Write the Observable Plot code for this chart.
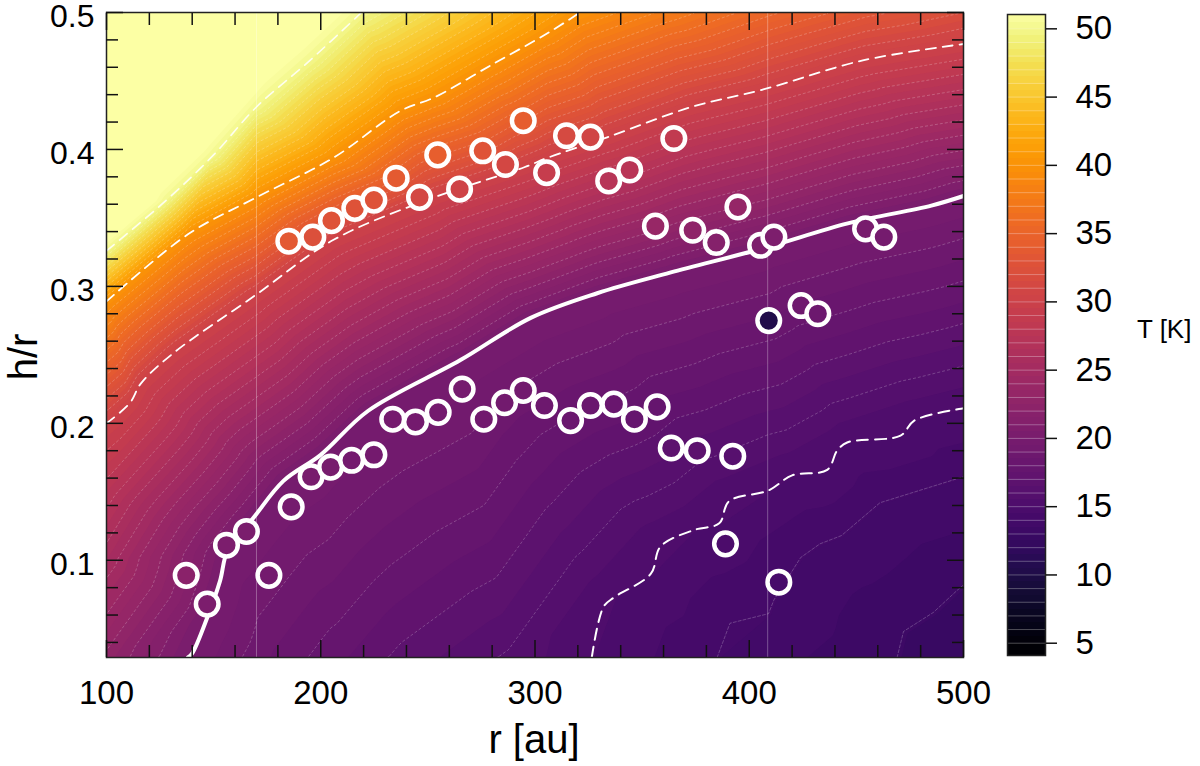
<!DOCTYPE html>
<html><head><meta charset="utf-8">
<script src="https://cdn.jsdelivr.net/npm/d3@7"></script>
<script src="https://cdn.jsdelivr.net/npm/@observablehq/plot@0.6"></script>
<style>
body{margin:0;background:#fff;font-family:"Liberation Sans",Arial,sans-serif;}
#wrap{position:relative;width:1200px;height:766px;overflow:hidden;}
#wrap svg{position:absolute;top:0;}
.t{position:absolute;color:#000;white-space:nowrap;line-height:1;font-family:"Liberation Sans",Arial,sans-serif;}
</style></head><body><div id="wrap"></div>
<script>
// ---- isotherms: [r (au), h/r] ----
const iso50 = [[100,0.326],[128,0.363],[150,0.396],[170,0.431],[195,0.465],[219,0.5]];
const iso40 = [[100,0.289],[138,0.338],[170,0.365],[206,0.394],[237,0.428],[253,0.438],[280,0.462],[306,0.485],[321,0.5]];
const iso30 = [[100,0.2],[111,0.215],[116,0.229],[131,0.251],[169,0.293],[206,0.334],[253,0.365],[295,0.387],[306,0.394],[334,0.409],[373,0.431],[407,0.444],[453,0.465],[500,0.477]];
const iso20 = [[138,0.029],[140,0.032],[147,0.058],[153,0.085],[156.5,0.107],[168.6,0.131],[182.6,0.158],[200,0.177],[222,0.209],[265,0.246],[298,0.277],[329,0.295],[363,0.31],[407,0.328],[446,0.346],[485,0.359],[500,0.366]];
const iso15 = [[326.5,0.029],[332,0.066],[337,0.073],[354,0.09],[358.6,0.11],[374,0.122],[386,0.127],[390.5,0.143],[409,0.151],[420,0.162],[436.4,0.166],[441,0.18],[445.7,0.186],[470.6,0.191],[477,0.202],[500,0.211]];
const iso14 = [[385,0.029],[391,0.054],[409,0.061],[411.5,0.071],[424,0.102],[433,0.112],[443,0.118],[461,0.142],[500,0.161]];
const iso13 = [[469,0.029],[472,0.048],[486,0.062],[497,0.078],[500,0.082]];
// ---- temperatures read along the frame edges ----
const bottomT = [[100,22.8],[158,19.2],[179,18.4],[209,17.6],[239,16.8],[288,15.9],[500,12.7]]; // at h/r = 0.029
const leftT = [[0.1,25.5],[0.15,27.5],[0.36,56],[0.42,61],[0.5,68]];                           // at r = 100
const topT = [[150,60],[185,54],[360,37.8],[410,35.2],[455,33.3],[500,32]];                     // at h/r = 0.5
// ---- emitting-surface points: [r, h/r, T] ----
const upperRing = [
 [185.1,0.333,33.4],[196.3,0.336,32.0],[205.0,0.348,32.5],[215.9,0.357,32.5],[224.8,0.363,32.5],
 [235.2,0.379,33.6],[246.1,0.365,30.7],[254.6,0.396,34.1],[264.8,0.371,30.0],[275.6,0.399,32.7],
 [286.2,0.389,30.8],[294.5,0.421,33.9],[305.4,0.383,29.0],[314.7,0.410,31.2],[325.9,0.409,30.4],
 [334.4,0.377,27.1],[344.2,0.385,27.3],[364.8,0.408,28.4],[356.2,0.344,23.2],[373.6,0.341,22.3],
 [384.6,0.332,21.2],[394.7,0.358,23.0],[405.3,0.330,20.3],[411.5,0.336,20.3],[454.3,0.342,19.8],
 [462.8,0.336,19.5],[409.1,0.275,10.0],[424.2,0.286,18.6],[432.0,0.280,18.3]];
const lowerRing = [
 [137.2,0.089,21.8],[147.0,0.068,20.1],[156.0,0.111,20.2],[165.3,0.121,19.9],[175.8,0.089,19.3],
 [186.2,0.139,19.5],[195.5,0.161,19.7],[204.6,0.168,19.6],[214.4,0.173,19.3],[224.8,0.177,19.2],
 [233.6,0.203,19.5],[244.2,0.201,19.3],[254.8,0.208,19.2],[266.0,0.225,19.4],[276.1,0.203,18.8],
 [285.8,0.215,19.0],[294.5,0.224,19.0],[304.4,0.213,18.5],[316.6,0.202,18.1],[325.9,0.213,18.2],
 [336.8,0.214,17.9],[346.4,0.203,17.6],[357.0,0.212,17.6],[363.6,0.182,16.7],[375.7,0.180,16.5],
 [392.3,0.176,15.9],[388.9,0.112,14.7],[413.8,0.084,14.1]];
const seams = [170, 408.6];
// ---- ticks ----
const majorX = [100,200,300,400,500];
const minorX = [120,140,160,180,220,240,260,280,320,340,360,380,420,440,460,480];
const majorY = [0.1,0.2,0.3,0.4,0.5];
const minorY = [0.04,0.06,0.08,0.12,0.14,0.16,0.18,0.22,0.24,0.26,0.28,0.32,0.34,0.36,0.38,0.42,0.44,0.46,0.48];
const cbTicks = [5,10,15,20,25,30,35,40,45,50];
const tDomain = [4.1, 51.05];

// build sample table for the field
const isoSets = [[50,iso50],[40,iso40],[30,iso30],[20,iso20],[15,iso15],[14,iso14],[13,iso13]];
const samples = [];
for (const [T, line] of isoSets) for (const [r,h] of line) samples.push({r, h, T});
for (const [r,T] of bottomT) samples.push({r, h:0.029, T});
for (const [h,T] of leftT) samples.push({r:100, h, T});
for (const [r,T] of topT) samples.push({r, h:0.5, T});
const pts = [...upperRing, ...lowerRing].map(([r,h,T]) => ({r,h,T}));

const isoValues = new Set(isoSets.map(d => d[0]));
const fillThresholds = d3.range(4, 51.5, 0.5).map(v => isoValues.has(v) ? v - 0.02 : v);
const lineThresholds = d3.range(5, 51, 1).filter(v => !isoValues.has(v));
const colorOpt = {type:"linear", scheme:"inferno", domain:tDomain, clamp:true};
const font = "'Liberation Sans', Arial, sans-serif";
const tk = {text:null, label:null, strokeWidth:1.5, stroke:"#111"};
const faint = {stroke:"white", strokeOpacity:0.32, strokeWidth:0.7, strokeDasharray:"3,2"};
const dashed = {stroke:"white", strokeWidth:1.8, strokeDasharray:"10,7", curve:"catmull-rom"};

const main = Plot.plot({
  width:1200, height:766,
  marginLeft:106, marginRight:237, marginTop:12, marginBottom:109,
  x:{domain:[100,500]}, y:{domain:[0.029,0.5]},
  color: colorOpt,
  style:{background:"none", fontFamily:font, fontSize:"33px", color:"#000", overflow:"visible"},
  marks:[
    Plot.contour(samples, {x:"r", y:"h", fill:"T", interpolate:"barycentric", thresholds:fillThresholds, stroke:"none", pixelSize:2}),
    Plot.contour(samples, {x:"r", y:"h", value:"T", interpolate:"barycentric", thresholds:lineThresholds, fill:"none", pixelSize:2, ...faint}),
    Plot.line(iso14, faint),
    Plot.line(iso13, faint),
    Plot.ruleX(seams, {stroke:"white", strokeOpacity:0.3, strokeWidth:1}),
    Plot.line(iso50, {...dashed, strokeOpacity:0.85, strokeWidth:1.6}),
    Plot.line(iso40, dashed),
    Plot.line(iso30, dashed),
    Plot.line(iso20, {stroke:"white", strokeWidth:4, curve:"catmull-rom"}),
    Plot.line(iso15, {...dashed, strokeWidth:2, strokeDasharray:"11,7"}),
    Plot.dot(pts, {x:"r", y:"h", fill:"T", stroke:"white", strokeWidth:4.5, r:11.3}),
    Plot.frame({stroke:"#222", strokeWidth:1.5}),
    Plot.axisX(majorX, {anchor:"bottom", tickSize:-17, ...tk}),
    Plot.axisX(minorX, {anchor:"bottom", tickSize:-12, ...tk}),
    Plot.axisX(majorX, {anchor:"top", tickSize:-17, ...tk}),
    Plot.axisX(minorX, {anchor:"top", tickSize:-12, ...tk}),
    Plot.axisY(majorY, {anchor:"left", tickSize:-17, ...tk}),
    Plot.axisY(minorY, {anchor:"left", tickSize:-12, ...tk}),
    Plot.axisY(majorY, {anchor:"right", tickSize:-17, ...tk}),
    Plot.axisY(minorY, {anchor:"right", tickSize:-12, ...tk}),
    Plot.axisX(majorX, {anchor:"bottom", tickSize:0, tickPadding:23, label:null, fontSize:33, fill:"#000"}),
    Plot.axisY(majorY, {anchor:"left", tickSize:0, tickPadding:12, label:null, fontSize:32, fill:"#000", dy:4, tickFormat:d => d.toFixed(1)})
  ]
});

const cbBands = d3.range(4, 51, 0.5);
const cbLines = d3.range(5, 51, 1);
const cb = Plot.plot({
  width:240, height:766,
  marginLeft:47, marginRight:155, marginTop:14, marginBottom:111,
  x:{domain:[0,1], axis:null}, y:{domain:tDomain},
  color: colorOpt,
  style:{background:"none", fontFamily:font, fontSize:"33px", color:"#000", overflow:"visible"},
  marks:[
    Plot.rect(cbBands, {x1:() => 0, x2:() => 1, y1:d => Math.max(d, tDomain[0]), y2:d => Math.min(d + 0.5, tDomain[1]), fill:d => d, shapeRendering:"crispEdges"}),
    Plot.ruleY(cbLines, {stroke:"white", strokeOpacity:0.3}),
    Plot.frame({stroke:"#222", strokeWidth:1.5}),
    Plot.axisY(cbTicks, {anchor:"right", tickSize:11, tickPadding:19, label:null, fontSize:33, strokeWidth:1.5, stroke:"#111", fill:"#000"})
  ]
});

const wrap = document.getElementById("wrap");
main.style.left = "0px";
cb.style.left = "960px";
wrap.appendChild(main);
wrap.appendChild(cb);

function addText(txt, css) {
  const d = document.createElement("div");
  d.className = "t";
  d.textContent = txt;
  Object.assign(d.style, css);
  wrap.appendChild(d);
}
addText("r [au]", {left:"534px", top:"719px", fontSize:"40px", transform:"translateX(-50%)"});
addText("h/r", {left:"23px", top:"357px", fontSize:"40px", transform:"translate(-50%,-50%) rotate(-90deg)"});
addText("T [K]", {left:"1137px", top:"316px", fontSize:"26px"});
</script></body></html>
